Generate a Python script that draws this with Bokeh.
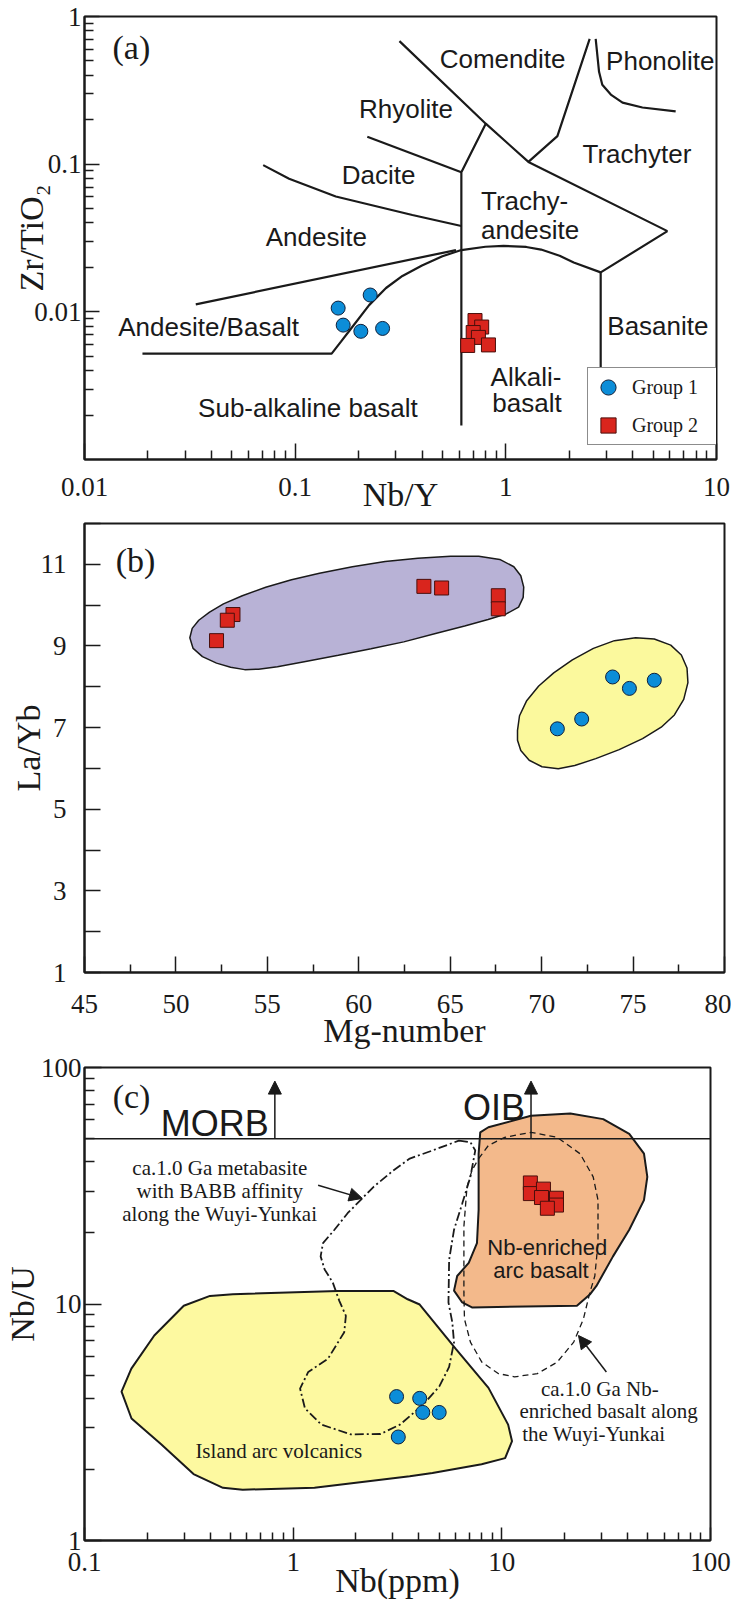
from bokeh.plotting import figure
from bokeh.layouts import column
from bokeh.models import (FixedTicker, CustomJSTickFormatter, Legend, LegendItem,
                          Span, Arrow, NormalHead)
from bokeh.core.properties import value
from bokeh.embed import file_html
from bokeh.resources import INLINE

SANS = "Liberation Sans"
SERIF = "Liberation Serif"
BLUE = "#0c8dd8"
RED = "#d9251d"
INK = "#1a1a1a"

# ---------------- (a) Zr/TiO2 vs Nb/Y ----------------
g1_nby = [0.160, 0.227, 0.169, 0.205, 0.260]
g1_zrti = [0.0106, 0.0130, 0.00813, 0.00738, 0.00772]
g2_nby = [0.714, 0.768, 0.700, 0.741, 0.659, 0.827]
g2_zrti = [0.00873, 0.00789, 0.00724, 0.00671, 0.00592, 0.00597]

# classification boundaries (Nb/Y, Zr/TiO2)
bnd_comendite = ([0.3126, 0.803, 1.28, 5.85], [0.681, 0.188, 0.1036, 0.0352])
bnd_basanite = ([5.85, 2.82, 2.82], [0.0352, 0.0185, 0.0039])
bnd_trachyte = ([1.28, 1.757, 2.50], [0.1036, 0.155, 0.706])
bnd_phonolite = ([2.67, 2.77, 2.87, 3.15, 3.58, 4.45, 6.40],
                 [0.706, 0.422, 0.345, 0.296, 0.261, 0.242, 0.2277])
bnd_alkaline = ([0.803, 0.615, 0.615], [0.188, 0.0882, 0.0017])
bnd_rhyolite = ([0.220, 0.615], [0.1535, 0.0882])
bnd_dacite = ([0.0705, 0.0936, 0.1559, 0.360, 0.615], [0.0985, 0.0796, 0.0604, 0.0453, 0.0381])
bnd_andesite = ([0.03375, 0.58], [0.01124, 0.0262])
bnd_subalk = ([0.01884, 0.149, 0.165, 0.1805, 0.2244, 0.27, 0.323, 0.40, 0.50, 0.615, 0.8,
               0.975, 1.25, 1.47, 1.80, 2.10, 2.82],
              [0.00521, 0.00521, 0.00628, 0.00742, 0.0111, 0.0145, 0.0175, 0.0206, 0.0238,
               0.0262, 0.0276, 0.028, 0.0275, 0.0264, 0.0240, 0.0216, 0.0185])

a_names = ["Comendite", "Phonolite", "Rhyolite", "Trachyter", "Dacite", "Andesite",
           "Andesite/Basalt", "Basanite", "Alkali-", "basalt", "Sub-alkaline basalt"]
a_name_x = [0.965, 5.41, 0.336, 4.19, 0.249, 0.126, 0.0388, 5.27, 1.246, 1.26, 0.115]
a_name_y = [0.519, 0.498, 0.235, 0.117, 0.0842, 0.0323, 0.00793, 0.00805, 0.00364, 0.0024, 0.00222]
a_left_names = ["Trachy-", "andesite"]
a_left_x = [0.762, 0.762]
a_left_y = [0.0562, 0.0361]

a_xticks = [0.01, 0.1, 1, 10]
a_yticks = [0.01, 0.1, 1]

# ---------------- (b) La/Yb vs Mg-number ----------------
g1_mg = [70.86, 72.19, 73.88, 74.80, 76.16]
g1_layb = [6.97, 7.21, 8.24, 7.96, 8.16]
g2_mg = [52.22, 53.12, 52.81, 63.56, 64.53, 67.63, 67.63]
g2_layb = [9.13, 9.77, 9.63, 10.46, 10.42, 10.23, 9.91]

field_g2_mg = [50.76, 50.89, 51.25, 51.84, 52.60, 53.63, 54.91, 56.32, 57.85, 59.65, 61.44,
               63.23, 65.02, 66.56, 67.71, 68.48, 68.86, 69.02, 68.99, 68.74, 68.09, 67.07,
               65.79, 64.25, 62.46, 60.67, 58.88, 57.09, 55.55, 54.52, 53.76, 52.99, 52.22,
               51.45, 50.94]
field_g2_layb = [9.20, 9.43, 9.63, 9.83, 10.03, 10.23, 10.44, 10.62, 10.78, 10.94, 11.07,
                 11.15, 11.20, 11.20, 11.12, 10.94, 10.72, 10.44, 10.19, 9.95, 9.79, 9.65,
                 9.49, 9.31, 9.10, 8.93, 8.77, 8.62, 8.49, 8.43, 8.42, 8.48, 8.58,
                 8.74, 8.94]
field_g1_mg = [68.68, 68.79, 69.17, 69.84, 70.66, 71.68, 72.83, 73.98, 75.14, 76.16, 77.06,
               77.64, 77.95, 78.00, 77.77, 77.26, 76.54, 75.52, 74.24, 72.96, 71.81, 70.91,
               70.02, 69.32, 68.86, 68.68]
field_g1_layb = [6.93, 7.29, 7.65, 8.02, 8.34, 8.66, 8.94, 9.13, 9.20, 9.17, 9.02,
                 8.78, 8.46, 8.10, 7.69, 7.31, 7.01, 6.73, 6.46, 6.24, 6.07, 5.99,
                 6.04, 6.20, 6.44, 6.69]

b_xticks = [45, 50, 55, 60, 65, 70, 75, 80]
b_xminor = [47.5, 52.5, 57.5, 62.5, 67.5, 72.5, 77.5]
b_yticks = [1, 3, 5, 7, 9, 11]
b_yminor = [2, 4, 6, 8, 10, 12]

# ---------------- (c) Nb/U vs Nb ----------------
g1_nb = [3.13, 4.04, 4.18, 5.01, 3.19]
g1_nbu = [4.06, 3.99, 3.48, 3.48, 2.74]
g2_nb = [13.70, 13.70, 15.83, 15.49, 18.28, 18.28, 16.53]
g2_nbu = [32.5, 29.3, 30.6, 28.2, 28.0, 26.2, 25.4]

arc_nb = [0.1505, 0.1677, 0.2160, 0.299, 0.3994, 0.514, 1.636, 3.02, 3.54, 4.04, 6.03, 8.63,
          10.72, 11.19, 10.37, 8.0, 4.65, 3.62, 1.265, 0.573, 0.461, 0.333, 0.233, 0.168]
arc_nbu = [4.26, 5.33, 7.36, 9.83, 10.82, 10.99, 11.36, 11.36, 10.47, 9.95, 6.45, 4.42,
           3.09, 2.63, 2.23, 2.10, 1.93, 1.87, 1.67, 1.64, 1.67, 1.91, 2.55, 3.28]
nbe_nb = [7.88, 8.62, 13.79, 21.3, 30.6, 40.8, 48.0, 49.8, 48.0, 40.8, 34.1, 28.4, 26.4,
          22.9, 7.19, 6.46, 5.90, 6.11, 6.94, 7.60, 7.74, 7.74]
nbe_nbu = [53.2, 55.9, 62.5, 63.9, 60.5, 52.4, 43.2, 34.5, 27.5, 20.6, 15.9, 11.92, 10.96,
           9.83, 9.67, 10.15, 11.39, 13.13, 14.93, 18.1, 25.0, 43.2]
wy_nb = [7.74, 8.62, 10.33, 13.79, 18.42, 23.7, 27.4, 28.9, 28.9, 27.9, 26.4, 24.6, 22.1,
         18.42, 14.8, 11.5, 9.61, 8.02, 7.07, 6.62, 6.58, 6.58, 6.58, 6.81, 7.19]
wy_nbu = [41.2, 46.8, 50.7, 53.2, 50.7, 43.2, 34.5, 27.5, 18.1, 13.13, 11.17, 8.64, 6.90,
          5.68, 5.08, 4.92, 5.08, 5.68, 6.90, 8.64, 11.17, 13.13, 21.3, 31.3, 36.7]
babb_nb = [6.23, 7.07, 7.46, 7.07, 6.46, 5.90, 5.59, 5.55, 5.79, 5.90, 5.59, 5.01, 4.18,
           3.25, 2.62, 1.89, 1.365, 1.139, 1.079, 1.181, 1.468, 1.757, 1.789, 1.664, 1.549,
           1.415, 1.354, 1.39, 1.577, 1.823, 2.43, 3.02, 3.62, 4.66]
babb_nbu = [49.1, 48.3, 44.6, 34.5, 26.6, 20.6, 15.4, 10.15, 8.36, 6.90, 5.42, 4.47, 3.74,
            3.09, 2.82, 2.81, 3.09, 3.62, 4.39, 5.16, 5.87, 7.60, 8.92, 10.31, 12.31,
            14.0, 15.9, 18.1, 20.6, 24.2, 31.3, 36.7, 41.2, 44.6]

morb_oib_nbu = 50
morb_arrow = (0.817, 87.6)
oib_arrow = (13.8, 87.6)

c_xticks = [0.1, 1, 10, 100]
c_yticks = [1, 10, 100]


def log_minor(lo_exp, hi_exp):
    return [m * 10.0 ** e for e in range(lo_exp, hi_exp) for m in range(2, 10)]


def style_axes(p, xticks, xminor, yticks, yminor, xlabel, ylabel,
               x_tick=(16, 9), y_tick=(15, 9),
               xstand=(14, -22), ystand=(3, -19)):
    for ax, ticks, minor, tl, st, lab in ((p.xaxis[0], xticks, xminor, x_tick, xstand, xlabel),
                                         (p.yaxis[0], yticks, yminor, y_tick, ystand, ylabel)):
        ax.ticker = FixedTicker(ticks=ticks, minor_ticks=minor)
        ax.formatter = CustomJSTickFormatter(code="return String(tick);")
        ax.major_tick_in = tl[0]
        ax.major_tick_out = 0
        ax.minor_tick_in = tl[1]
        ax.minor_tick_out = 0
        ax.major_tick_line_width = 1.5
        ax.minor_tick_line_width = 1.5
        ax.major_tick_line_color = INK
        ax.minor_tick_line_color = INK
        ax.axis_line_width = 2
        ax.axis_line_color = INK
        ax.major_label_text_font = SERIF
        ax.major_label_text_font_size = "27px"
        ax.major_label_text_color = INK
        ax.major_label_standoff = st[0]
        ax.axis_label = lab
        ax.axis_label_text_font = SERIF
        ax.axis_label_text_font_size = "34px"
        ax.axis_label_text_font_style = "normal"
        ax.axis_label_text_color = INK
        ax.axis_label_standoff = st[1]
    p.xgrid.grid_line_color = None
    p.ygrid.grid_line_color = None
    p.outline_line_color = INK
    p.outline_line_width = 2


def panel_tag(p, x, y, tag):
    p.text(x=[x], y=[y], text=[tag], text_font=value(SERIF), text_font_size="34px",
           text_align="center", text_baseline="middle", text_color=INK)


# ---------------- panel (a) ----------------
pa = figure(x_axis_type="log", y_axis_type="log", x_range=(0.01, 10), y_range=(0.001, 1),
            frame_width=632, frame_height=443, min_border_left=82, min_border_right=17,
            min_border_top=16, min_border_bottom=63, output_backend="svg",
            toolbar_location=None)
style_axes(pa, a_xticks, log_minor(-2, 1), a_yticks, log_minor(-3, 0), "Nb/Y", "Zr/TiO₂",
           x_tick=(16, 9), y_tick=(15, 9), xstand=(18, -23), ystand=(3, -19))

for xs, ys in (bnd_comendite, bnd_basanite, bnd_trachyte, bnd_phonolite, bnd_alkaline,
               bnd_rhyolite, bnd_dacite, bnd_andesite, bnd_subalk):
    pa.line(xs, ys, line_color=INK, line_width=2.2)

pa.text(x=a_name_x, y=a_name_y, text=a_names, text_font=value(SANS), text_font_size="26px",
        text_align="center", text_baseline="middle", text_color=INK)
pa.text(x=a_left_x, y=a_left_y, text=a_left_names, text_font=value(SANS), text_font_size="26px",
        text_align="left", text_baseline="middle", text_color=INK)
panel_tag(pa, 0.0167, 0.62, "(a)")

ra1 = pa.scatter(g1_nby, g1_zrti, marker="circle", size=14, fill_color=BLUE,
                 line_color="#10203a", line_width=1)
ra2 = pa.scatter(g2_nby, g2_zrti, marker="square", size=14, fill_color=RED,
                 line_color="#4a0f0c", line_width=1)

legend = Legend(items=[LegendItem(label="Group 1", renderers=[ra1]),
                       LegendItem(label="Group 2", renderers=[ra2])],
                location=(503, 14), orientation="vertical", glyph_width=40, glyph_height=38,
                padding=0, spacing=0, margin=0, label_standoff=4, label_width=85,
                label_text_font=SERIF, label_text_font_size="20px", label_text_color=INK,
                border_line_color=INK, border_line_width=1.5, background_fill_alpha=1.0)
pa.add_layout(legend)

# ---------------- panel (b) ----------------
pb = figure(x_range=(45, 80), y_range=(1, 12), frame_width=640, frame_height=449,
            min_border_left=79, min_border_right=12, min_border_top=1, min_border_bottom=80,
            output_backend="svg", toolbar_location=None)
style_axes(pb, b_xticks, b_xminor, b_yticks, b_yminor, "Mg-number", "La/Yb",
           x_tick=(16, 8), y_tick=(16, 16), xstand=(22, -4), ystand=(18, -9))

pb.patch(field_g2_mg, field_g2_layb, fill_color="#b8b2d6", line_color=INK, line_width=1.5)
pb.patch(field_g1_mg, field_g1_layb, fill_color="#fbf99d", line_color=INK, line_width=1.5)
pb.scatter(g2_mg, g2_layb, marker="square", size=14, fill_color=RED,
           line_color="#4a0f0c", line_width=1)
pb.scatter(g1_mg, g1_layb, marker="circle", size=14, fill_color=BLUE,
           line_color="#10203a", line_width=1)
panel_tag(pb, 47.79, 11.09, "(b)")

# ---------------- panel (c) ----------------
pc = figure(x_axis_type="log", y_axis_type="log", x_range=(0.1, 100), y_range=(1, 100),
            frame_width=626, frame_height=473, min_border_left=79, min_border_right=26,
            min_border_top=15, min_border_bottom=65, output_backend="svg",
            toolbar_location=None)
style_axes(pc, c_xticks, log_minor(-1, 2), c_yticks, log_minor(0, 2), "Nb(ppm)", "Nb/U",
           x_tick=(13, 8), y_tick=(17, 10), xstand=(12, -12), ystand=(3, -3))

pc.patch(arc_nb, arc_nbu, fill_color="#fdf9a0", line_color=INK, line_width=2)
pc.patch(nbe_nb, nbe_nbu, fill_color="#f3b98b", line_color=INK, line_width=2)
pc.patch(babb_nb, babb_nbu, fill_color=None, line_color=INK, line_width=1.8,
         line_dash="9 3 2 3")
pc.patch(wy_nb, wy_nbu, fill_color=None, line_color=INK, line_width=1.3, line_dash="6 4")

pc.add_layout(Span(location=morb_oib_nbu, dimension="width", line_color=INK, line_width=1.5))
for ax_x, ax_top in (morb_arrow, oib_arrow):
    pc.add_layout(Arrow(end=NormalHead(size=13, fill_color=INK, line_color=INK),
                        x_start=ax_x, y_start=morb_oib_nbu, x_end=ax_x, y_end=ax_top,
                        line_color=INK, line_width=1.5))
pc.text(x=[morb_arrow[0], oib_arrow[0]], y=[57.7, 67.8], text=["MORB", "OIB"],
        text_font=value(SANS), text_font_size="36px", text_align="right",
        text_baseline="alphabetic", text_color=INK, x_offset=-6)

pc.text(x=[0.445, 0.445, 0.445], y=[37.6, 30.0, 24.0],
        text=["ca.1.0 Ga metabasite", "with BABB affinity", "along the Wuyi-Yunkai"],
        text_font=value(SERIF), text_font_size="21px", text_align="center",
        text_baseline="middle", text_color=INK)
pc.text(x=[29.5, 32.5, 27.6], y=[4.39, 3.53, 2.81],
        text=["ca.1.0 Ga Nb-", "enriched basalt along", "the Wuyi-Yunkai"],
        text_font=value(SERIF), text_font_size="21px", text_align="center",
        text_baseline="middle", text_color=INK)
pc.text(x=[0.853], y=[2.40], text=["Island arc volcanics"], text_font=value(SERIF),
        text_font_size="21px", text_align="center", text_baseline="middle", text_color=INK)
pc.text(x=[16.5, 15.4], y=[17.4, 13.9], text=["Nb-enriched", "arc basalt"],
        text_font=value(SANS), text_font_size="22px", text_align="center",
        text_baseline="middle", text_color=INK)

pc.add_layout(Arrow(end=NormalHead(size=13, fill_color=INK, line_color=INK),
                    x_start=1.317, y_start=31.8, x_end=2.145, y_end=27.96,
                    line_color=INK, line_width=1.5))
pc.add_layout(Arrow(end=NormalHead(size=13, fill_color=INK, line_color=INK),
                    x_start=31.7, y_start=5.16, x_end=23.3, y_end=7.36,
                    line_color=INK, line_width=1.5))

pc.scatter(g1_nb, g1_nbu, marker="circle", size=14, fill_color=BLUE,
           line_color="#10203a", line_width=1)
pc.scatter(g2_nb, g2_nbu, marker="square", size=14, fill_color=RED,
           line_color="#4a0f0c", line_width=1)
panel_tag(pc, 0.168, 75.5, "(c)")

layout = column(pa, pb, pc, spacing=0)
open("out.html", "w").write(file_html(layout, INLINE))
